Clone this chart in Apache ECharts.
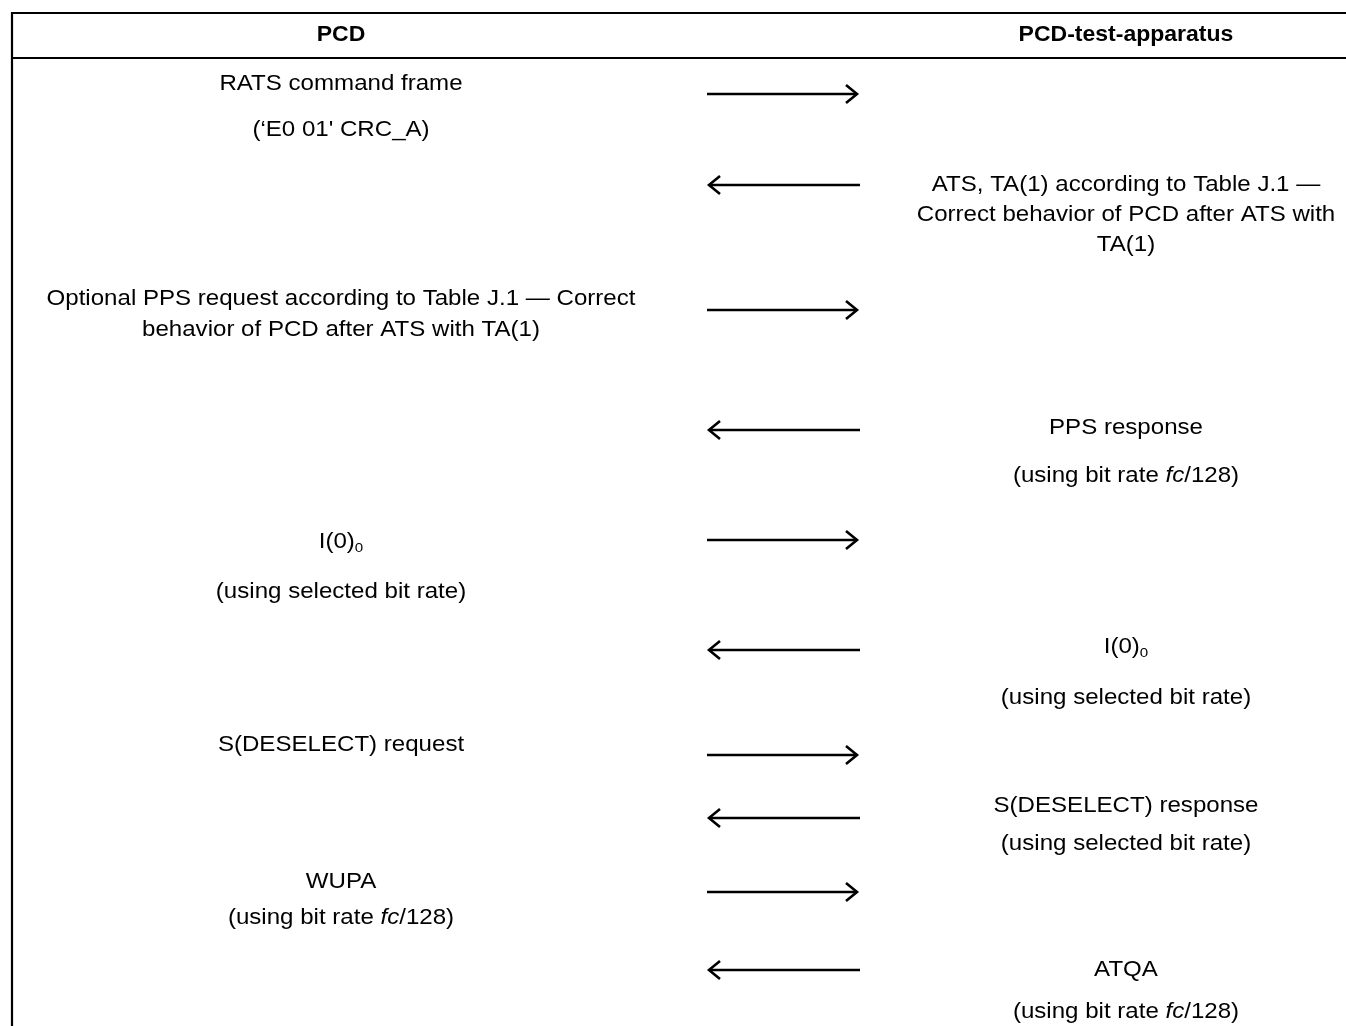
<!DOCTYPE html>
<html>
<head>
<meta charset="utf-8">
<script src="https://cdn.jsdelivr.net/npm/echarts@6/dist/echarts.min.js"></script>
<style>
  html, body { margin: 0; padding: 0; background: #fff; }
  #chart { width: 1346px; height: 1026px; }
</style>
</head>
<body>
<div id="chart"></div>
<script>
// ---- participants (column headers) ----
const participants = ['PCD', 'PCD-test-apparatus'];

// ---- message arrows: direction (1 = PCD -> apparatus, -1 = apparatus -> PCD) and row position ----
const arrowDir = [1, -1, 1, -1, 1, -1, 1, -1, 1, -1];
const arrowRow = [94, 185, 310, 430, 540, 650, 755, 818, 892, 970];

// ---- PCD-side message text lines and their row positions ----
const pcdText = [
  'RATS command frame',
  '(‘E0 01\' CRC_A)',
  'Optional PPS request according to Table J.1 — Correct',
  'behavior of PCD after ATS with TA(1)',
  'I(0){sub|0}',
  '(using selected bit rate)',
  'S(DESELECT) request',
  'WUPA',
  '(using bit rate {it|fc}/128)'
];
const pcdRow = [84, 130, 299, 330, 542, 592, 745, 882, 918];

// ---- apparatus-side message text lines and their row positions ----
const aptText = [
  'ATS, TA(1) according to Table J.1 —',
  'Correct behavior of PCD after ATS with',
  'TA(1)',
  'PPS response',
  '(using bit rate {it|fc}/128)',
  'I(0){sub|0}',
  '(using selected bit rate)',
  'S(DESELECT) response',
  '(using selected bit rate)',
  'ATQA',
  '(using bit rate {it|fc}/128)'
];
const aptRow = [185, 215, 245, 428, 476, 647, 698, 806, 844, 970, 1012];

// ---- layout ----
const W = 1346, H = 1026;
const colX = [341, 1126];          // text column centres
const headerY = 35.5;
const arrowX0 = 707, arrowX1 = 858; // arrow span
const FONT = '"Liberation Sans", Arial, Helvetica, sans-serif';
const FS = 21.5;
const SX = 1.12;
const SXB = 1.07;

const chart = echarts.init(document.getElementById('chart'), null, { renderer: 'canvas' });

const rich = {
  sub: { fontSize: 13.5, lineHeight: 13, verticalAlign: 'bottom', fontFamily: FONT, fill: '#000' },
  it: { fontStyle: 'italic', fontSize: FS, lineHeight: 26, fontFamily: FONT, fill: '#000' }
};

function textItem(params, api, list) {
  const i = api.value(2);
  const p = api.coord([api.value(0), api.value(1)]);
  return {
    type: 'text',
    x: p[0], y: p[1], scaleX: SX,
    style: {
      text: list[i],
      fontSize: FS, fontFamily: FONT, lineHeight: 26,
      fill: '#000',
      align: 'center', verticalAlign: 'middle',
      rich: rich
    }
  };
}

chart.setOption({
  animation: false,
  backgroundColor: '#fff',
  grid: { left: 0, right: 0, top: 0, bottom: 0 },
  xAxis: { type: 'value', min: 0, max: W, show: false },
  yAxis: { type: 'value', min: 0, max: H, inverse: true, show: false },
  series: [
    // frame
    {
      type: 'custom',
      silent: true,
      data: [[0]],
      renderItem: function (params, api) {
        const tl = api.coord([12, 13]);
        const tr = api.coord([W + 2, 13]);
        const bl = api.coord([12, H + 2]);
        const dl = api.coord([12, 58]);
        const dr = api.coord([W + 2, 58]);
        const st = { stroke: '#000', lineWidth: 2.2, fill: null };
        return {
          type: 'group',
          children: [
            { type: 'line', shape: { x1: tl[0], y1: tl[1], x2: tr[0], y2: tr[1] }, style: st },
            { type: 'line', shape: { x1: tl[0], y1: tl[1] - 1, x2: bl[0], y2: bl[1] }, style: st },
            { type: 'line', shape: { x1: dl[0], y1: dl[1], x2: dr[0], y2: dr[1] }, style: st }
          ]
        };
      }
    },
    // headers
    {
      type: 'custom',
      silent: true,
      data: participants.map((p, i) => [colX[i], headerY, i]),
      renderItem: function (params, api) {
        const i = api.value(2);
        const p = api.coord([api.value(0), api.value(1)]);
        return {
          type: 'text', x: p[0], y: p[1], scaleX: SXB,
          style: {
            text: participants[i], fontSize: FS, fontWeight: 'bold', fontFamily: FONT,
            fill: '#000', align: 'center', verticalAlign: 'middle'
          }
        };
      }
    },
    // arrows
    {
      type: 'custom',
      silent: true,
      data: arrowRow.map((y, i) => [y, arrowDir[i]]),
      renderItem: function (params, api) {
        const y = api.value(0), d = api.value(1);
        const a = api.coord([d > 0 ? arrowX0 : arrowX0 + 2, y]);
        const b = api.coord([d > 0 ? arrowX1 - 1 : arrowX1 + 2, y]);
        const tip = d > 0 ? b : a;
        const hw = 11 * d, hh = 9;
        const st = { stroke: '#000', lineWidth: 2.6, fill: null, lineJoin: 'miter' };
        return {
          type: 'group',
          children: [
            { type: 'line', shape: { x1: a[0], y1: a[1], x2: b[0], y2: b[1] }, style: st },
            { type: 'polyline', shape: { points: [[tip[0] - hw, tip[1] - hh], [tip[0], tip[1]], [tip[0] - hw, tip[1] + hh]] }, style: st }
          ]
        };
      }
    },
    // PCD texts
    {
      type: 'custom',
      silent: true,
      data: pcdRow.map((y, i) => [colX[0], y, i]),
      renderItem: function (params, api) { return textItem(params, api, pcdText); }
    },
    // apparatus texts
    {
      type: 'custom',
      silent: true,
      data: aptRow.map((y, i) => [colX[1], y, i]),
      renderItem: function (params, api) { return textItem(params, api, aptText); }
    }
  ]
});
</script>
</body>
</html>
